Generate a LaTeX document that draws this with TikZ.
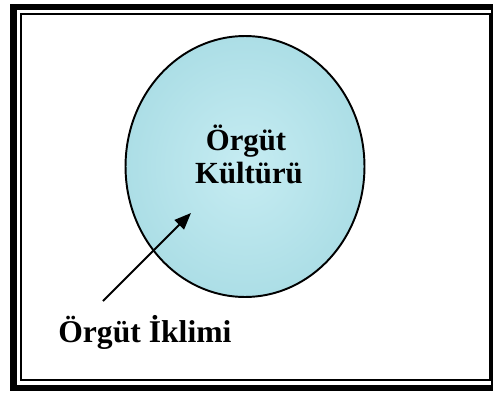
\documentclass[tikz,border=0pt]{standalone}
\usepackage{fontspec}
\setmainfont{Liberation Serif}
\usepackage{xcolor}
\usetikzlibrary{shapes.geometric, arrows.meta}

\definecolor{damla}{RGB}{172,222,230}
\definecolor{damlaacik}{RGB}{198,236,242}

\begin{document}
\begin{tikzpicture}[
    x=0.02cm, y=-0.02cm,
    cerceve/.style={draw=black, line width=#1},
    cerceve/.default={1.1pt},
    kure/.style={ellipse, draw=black, line width=1.1pt, inner color=damlaacik, outer color=damla,
                 minimum width=4.78cm, minimum height=5.22cm},
    yazi/.style={font=\fontsize{#1}{20}\selectfont\bfseries, inner sep=0pt, anchor=base},
    yazi/.default={17.5},
    ok/.style={-{Triangle[length=9.5pt, width=7.5pt]}, line width=1.1pt, black}
]

% --- Background and bounding box ---
\fill[white] (0,0) rectangle (493,392);
\useasboundingbox (0,0) rectangle (493,392);
\clip (0,0) rectangle (493,392);

% --- Double frame ---
\draw[cerceve=3.7pt] (13.5,7) rectangle (494.5,388);
\draw[cerceve] (21,13.7) rectangle (490,380);

% --- Culture ellipse ---
\node[kure] (kultur) at (245,166.5) {};
\node[yazi] (orgut) at (246,150) {Örgüt};
\node[yazi] (kulturu) at (249,183) {Kültürü};

% --- Climate label ---
\node[yazi=18, anchor=base west] (iklim) at (58,342) {Örgüt İklimi};

% --- Arrow: label -> ellipse ---
\coordinate (okbas) at (103,301);
\coordinate (okuc) at (191,213);
\draw[ok] (okbas) -- (okuc);

\end{tikzpicture}
\end{document}
